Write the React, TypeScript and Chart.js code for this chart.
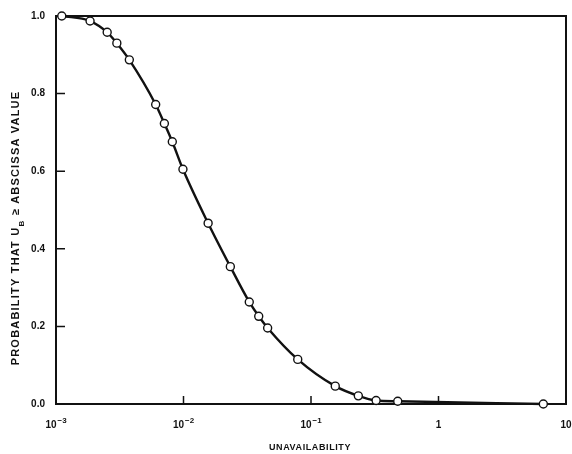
import React, { useEffect, useRef } from 'react';
import { Chart, registerables } from 'chart.js';
Chart.register(...registerables);

const unavailability = [1.11e-3, 1.85e-3, 2.52e-3, 3.0e-3, 3.76e-3, 6.05e-3, 7.08e-3, 8.17e-3, 9.9e-3, 1.56e-2, 2.33e-2, 3.28e-2, 3.89e-2, 4.57e-2, 7.87e-2, 0.155, 0.235, 0.324, 0.479, 6.64];
const probability = [1.0, 0.987, 0.958, 0.93, 0.887, 0.772, 0.723, 0.676, 0.605, 0.466, 0.354, 0.263, 0.226, 0.196, 0.115, 0.046, 0.021, 0.009, 0.007, 0.0];
const xTickValues = [1e-3, 1e-2, 1e-1, 1, 10];
const xTickBases = ['10', '10', '10', '1', '10'];
const xTickExponents = ['\u22123', '\u22122', '\u22121', '', ''];
const yTickValues = [0, 0.2, 0.4, 0.6, 0.8, 1.0];
const yTickLabels = ['0.0', '0.2', '0.4', '0.6', '0.8', '1.0'];
const xTitle = 'UNAVAILABILITY';
const yTitleParts = ['PROBABILITY THAT U', 'B', ' \u2265 ABSCISSA VALUE'];

const INK = '#111';

const framePlugin = {
  id: 'frame',
  beforeDatasetsDraw(chart: any) {
    const { ctx, chartArea: a, scales } = chart;
    ctx.save();
    ctx.strokeStyle = INK;
    ctx.lineWidth = 2;
    ctx.strokeRect(a.left, a.top, a.right - a.left, a.bottom - a.top);
    ctx.lineWidth = 1.5;
    ctx.beginPath();
    yTickValues.forEach((v) => {
      const y = scales.y.getPixelForValue(v);
      ctx.moveTo(a.left, y);
      ctx.lineTo(a.left + 9, y);
    });
    xTickValues.forEach((v) => {
      const x = scales.x.getPixelForValue(v);
      ctx.moveTo(x, a.bottom);
      ctx.lineTo(x, a.bottom - 8);
    });
    ctx.stroke();
    ctx.restore();
  },
  afterDraw(chart: any) {
    const { ctx, chartArea: a, scales } = chart;
    ctx.save();
    ctx.fillStyle = INK;
    // x tick labels with superscript exponents
    ctx.textBaseline = 'alphabetic';
    ctx.textAlign = 'left';
    const baseFont = 'bold 10px "Liberation Sans"';
    const expFont = 'bold 8px "Liberation Sans"';
    xTickValues.forEach((v, i) => {
      const cx = scales.x.getPixelForValue(v);
      ctx.font = baseFont;
      const wb = ctx.measureText(xTickBases[i]).width;
      ctx.font = expFont;
      const we = xTickExponents[i] ? ctx.measureText(xTickExponents[i]).width + 1 : 0;
      let x = cx - (wb + we) / 2;
      ctx.font = baseFont;
      ctx.fillText(xTickBases[i], x, 428);
      x += wb + 1;
      if (xTickExponents[i]) {
        ctx.font = expFont;
        ctx.fillText(xTickExponents[i], x, 423);
      }
    });
    // x title
    ctx.font = 'bold 9px "Liberation Sans"';
    (ctx as any).letterSpacing = '0.6px';
    ctx.textAlign = 'center';
    ctx.textBaseline = 'middle';
    ctx.fillText(xTitle, 310, 448);
    // y title
    ctx.translate(16, 228);
    ctx.rotate(-Math.PI / 2);
    ctx.textAlign = 'left';
    ctx.textBaseline = 'middle';
    const mainFont = 'bold 11px "Liberation Sans"';
    const subFont = 'bold 8px "Liberation Sans"';
    (ctx as any).letterSpacing = '1.2px';
    ctx.font = mainFont;
    const w0 = ctx.measureText(yTitleParts[0]).width;
    const w2 = ctx.measureText(yTitleParts[2]).width;
    ctx.font = subFont;
    const w1 = ctx.measureText(yTitleParts[1]).width;
    let x = -(w0 + w1 + w2) / 2;
    ctx.font = mainFont;
    ctx.fillText(yTitleParts[0], x, 0);
    x += w0;
    ctx.font = subFont;
    ctx.fillText(yTitleParts[1], x, 6);
    x += w1;
    ctx.font = mainFont;
    ctx.fillText(yTitleParts[2], x, 0);
    ctx.restore();
  },
};

export default function App() {
  const ref = useRef<HTMLCanvasElement | null>(null);
  useEffect(() => {
    document.body.style.margin = '0';
    if (!ref.current) return;
    const chart = new Chart(ref.current, {
      type: 'line',
      data: {
        datasets: [
          {
            data: unavailability.map((u, i) => ({ x: u, y: probability[i] })),
            borderColor: INK,
            borderWidth: 2.4,
            cubicInterpolationMode: 'monotone',
            pointRadius: 4,
            pointBackgroundColor: '#fff',
            pointBorderColor: INK,
            pointBorderWidth: 1.4,
            clip: false as any,
            fill: false,
          },
        ],
      },
      options: {
        responsive: false,
        animation: false,
        layout: { padding: { top: 16, right: 6, left: 0, bottom: 0 } },
        plugins: { legend: { display: false }, tooltip: { enabled: false } },
        events: [],
        scales: {
          x: {
            type: 'logarithmic',
            min: 1e-3,
            max: 10,
            afterBuildTicks: (s: any) => {
              s.ticks = xTickValues.map((v) => ({ value: v }));
            },
            afterFit: (s: any) => {
              s.height = 50;
              s.paddingLeft = 0;
              s.paddingRight = 0;
            },
            grid: { display: false, drawTicks: false },
            border: { display: false },
            ticks: { display: false },
          },
          y: {
            type: 'linear',
            min: 0,
            max: 1,
            afterBuildTicks: (s: any) => {
              s.ticks = yTickValues.map((v) => ({ value: v }));
            },
            afterFit: (s: any) => {
              s.width = 56;
              s.paddingTop = 0;
              s.paddingBottom = 0;
            },
            grid: { display: false, drawTicks: false },
            border: { display: false },
            ticks: {
              padding: 11,
              color: INK,
              font: { family: '"Liberation Sans"', size: 10, weight: 'bold' },
              callback: (v: any) => {
                const i = yTickValues.findIndex((t) => Math.abs(t - Number(v)) < 1e-6);
                return i >= 0 ? yTickLabels[i] : '';
              },
            },
          },
        },
      },
      plugins: [framePlugin],
    } as any);
    return () => chart.destroy();
  }, []);
  return (
    <div style={{ position: 'absolute', left: 0, top: 0, width: 572, height: 454, background: '#fff' }}>
      <canvas ref={ref} width={572} height={454} style={{ display: 'block' }} />
    </div>
  );
}
